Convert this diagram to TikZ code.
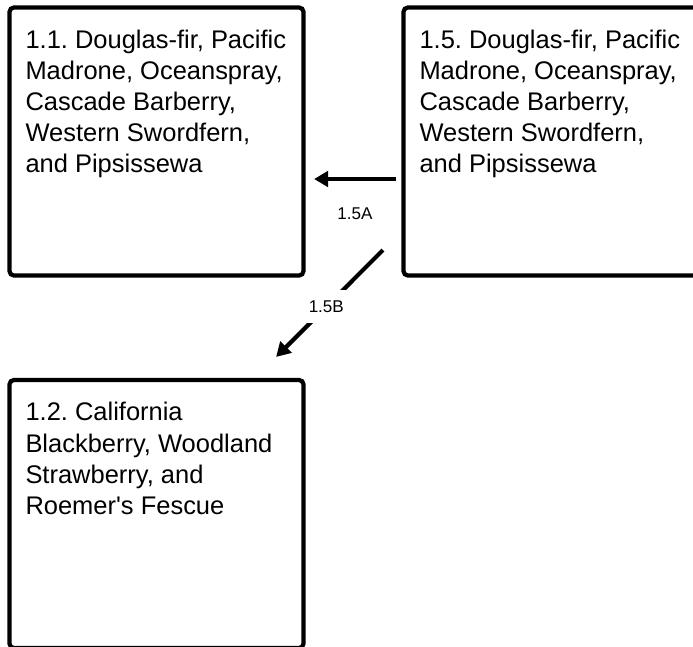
\documentclass[tikz,border=0pt]{standalone}
\usepackage{fontspec}
\setmainfont{Liberation Sans}
\frenchspacing
\usetikzlibrary{arrows.meta}
\tikzset{
    plantbox/.style={rectangle, rounded corners=2.5pt, draw=black, line width=2.4pt, fill=white,
                     inner xsep=0.32cm, inner ysep=0.45cm, font=\fontsize{14.5}{17.7}\selectfont},
    arrow/.style={-{Stealth[length=0.28cm, width=0.31cm, inset=0pt]}, line width=2.4pt, black},
    steplabel/.style={font=\fontsize{9.7}{11.6}\selectfont, fill=white, inner sep=1pt, minimum height=0.66cm},
}
\newcommand{\boxtext}[1]{\parbox[t][4.46cm][t]{5.24cm}{\raggedright #1}}

\begin{document}
\begin{tikzpicture}
            \useasboundingbox (0,0) rectangle (13.86,-12.92);
            \node[plantbox] (veg11) at (3.13,-2.83) {\boxtext{1.1. Douglas-fir, Pacific\\ Madrone, Oceanspray,\\ Cascade Barberry,\\ Western Swordfern,\\ and Pipsissewa}};
            \node[plantbox] (veg15) at (11.01,-2.83) {\boxtext{1.5. Douglas-fir, Pacific\\ Madrone, Oceanspray,\\ Cascade Barberry,\\ Western Swordfern,\\ and Pipsissewa}};
            \node[plantbox] (veg12) at (3.13,-10.28) {\boxtext{1.2. California\\ Blackberry, Woodland\\ Strawberry, and\\ Roemer\textquotesingle s Fescue}};
            \draw[arrow] ([xshift=-0.11cm, yshift=-0.75cm]veg15.west) -- ([xshift=0.17cm, yshift=-0.75cm]veg11.east) node[midway, yshift=-0.7cm, steplabel, fill=none] {1.5A};
            \draw[arrow] ([xshift=-0.37cm, yshift=0.55cm]veg15.south west) -- ([xshift=-0.59cm, yshift=0.42cm]veg12.north east) node[pos=0.53, steplabel] {1.5B};
        \end{tikzpicture}
\end{document}
